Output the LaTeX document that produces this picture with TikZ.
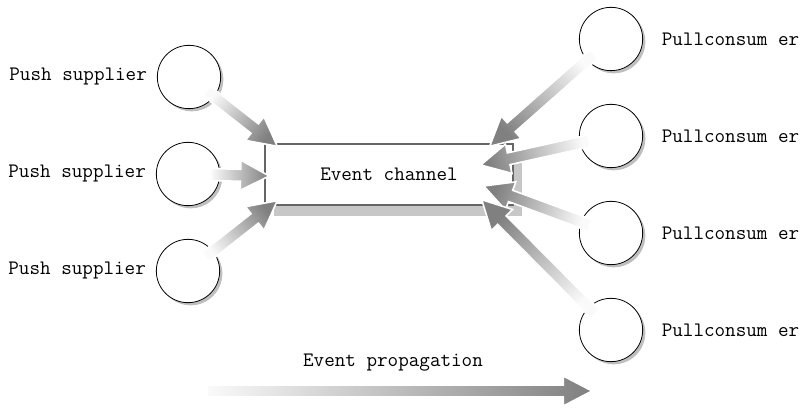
\documentclass[tikz,border=0pt]{standalone}
\usepackage{fontspec}
\usepackage{tikz}
\usetikzlibrary{calc,positioning,shadows}

\tikzstyle{ring}=[circle, draw=black, line width=0.6pt, fill=white, minimum size=47.5pt, inner sep=0pt,
  drop shadow={shadow xshift=2pt, shadow yshift=-2pt, fill=black!25, opacity=1}]
\tikzstyle{txt}=[font=\fontsize{15.4}{17}\selectfont\ttfamily]
\tikzstyle{channel}=[draw=black!60, line width=1.1pt, fill=white, minimum width=186pt, minimum height=45.75pt,
  drop shadow={shadow xshift=7pt, shadow yshift=-8pt, fill=black!22, opacity=1}]
\tikzstyle{fat}=[draw=white, line width=1.2pt, bottom color=black!2, top color=black!50]

\newcommand{\fatarrow}[3]{%
  \pgfmathanglebetweenpoints{\pgfpointanchor{#1}{center}}{\pgfpointanchor{#2}{center}}%
  \pgfmathsetmacro{\shang}{\pgfmathresult-90}%
  \coordinate (fa-t) at ($(#1.center)!#3!(#2)$);
  \coordinate (fa-h) at ($(#2)!21.5pt!(#1.center)$);
  \shadedraw[fat, shading angle=\shang]
    ($(fa-t)!4.5pt!90:(#2)$) -- ($(fa-h)!4.5pt!90:(#2)$) -- ($(fa-h)!11.25pt!90:(#2)$)
    -- (#2) -- ($(fa-h)!11.25pt!-90:(#2)$) -- ($(fa-h)!4.5pt!-90:(#2)$)
    -- ($(fa-t)!4.5pt!-90:(#2)$) -- cycle;
}

\begin{document}
\begin{tikzpicture}[x=0.75pt, y=-0.75pt]
      \useasboundingbox (0, 0) rectangle (811, 409);
      \node[channel, txt] at (389, 174.5) (chan) {Event channel};

      \node[ring] at (189, 77) (ps1) {};
      \node[ring] at (188, 174) (ps2) {};
      \node[ring] at (188, 271) (ps3) {};
      \node[txt, left=4pt of ps1] (ls1) {Push supplier};
      \node[txt, left=4pt of ps2] (ls2) {Push supplier};
      \node[txt, left=4pt of ps3] (ls3) {Push supplier};

      \node[ring] at (611, 39) (pc1) {};
      \node[ring] at (611, 136) (pc2) {};
      \node[ring] at (611, 233) (pc3) {};
      \node[ring] at (611, 330) (pc4) {};
      \node[txt, right=10.5pt of pc1] (lc1) {Pullconsum er};
      \node[txt, right=10.5pt of pc2] (lc2) {Pullconsum er};
      \node[txt, right=10.5pt of pc3] (lc3) {Pullconsum er};
      \node[txt, right=10.5pt of pc4] (lc4) {Pullconsum er};

      \coordinate (in1) at ($(chan.north west)+(13, 3)$);
      \coordinate (in2) at ($(chan.west)+(5, 1.5)$);
      \coordinate (in3) at ($(chan.south west)+(13, -5)$);
      \coordinate (out1) at ($(chan.north east)+(-24, 3)$);
      \coordinate (out2) at ($(chan.east)+(-33, -9.5)$);
      \coordinate (out3) at ($(chan.east)+(-30, 11.5)$);
      \coordinate (out4) at ($(chan.south east)+(-32, -6)$);

      \fatarrow{ps1}{in1}{17pt}
      \fatarrow{ps2}{in2}{17pt}
      \fatarrow{ps3}{in3}{17pt}
      \fatarrow{pc1}{out1}{17pt}
      \fatarrow{pc2}{out2}{17pt}
      \fatarrow{pc3}{out3}{17pt}
      \fatarrow{pc4}{out4}{17pt}

      \node[txt] at (393, 363) (ep) {Event propagation};
      \coordinate (ep0) at (207, 391);
      \coordinate (ep1) at (592, 391);
      \fatarrow{ep0}{ep1}{0pt}
    \end{tikzpicture}
\end{document}
